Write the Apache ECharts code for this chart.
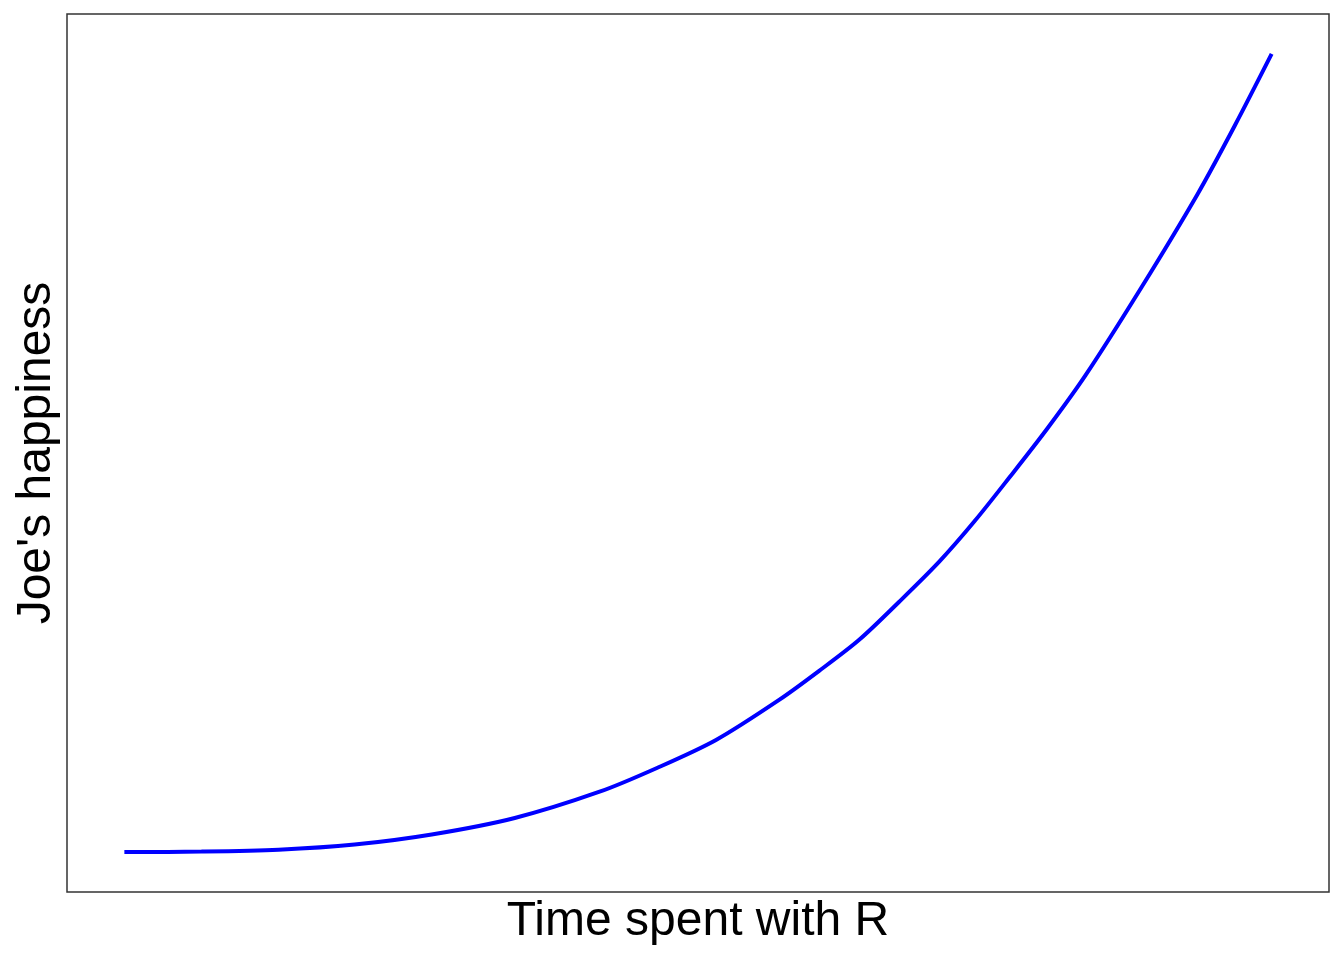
<!DOCTYPE html>
<html>
<head>
<meta charset="utf-8">
<script src="https://cdn.jsdelivr.net/npm/echarts@6/dist/echarts.min.js"></script>
<style>
html,body{margin:0;padding:0;background:#fff;}
#chart{width:1344px;height:960px;}
</style>
</head>
<body>
<div id="chart"></div>
<script>
const timeSpent = [0, 0.672, 1.344, 2.007, 2.679, 3.403, 4.136, 4.642, 5.157, 5.707, 6.056, 6.405, 6.754, 7.103, 7.408, 7.714, 8.045, 8.377, 8.866, 9.354, 9.677, 10];
const happiness = [0, 0.06, 0.29, 0.94, 2.20, 4.27, 7.53, 10.54, 14.05, 19.07, 22.71, 26.60, 31.37, 36.39, 41.41, 46.93, 53.07, 59.72, 70.77, 82.43, 90.97, 100];
const xTitle = "Time spent with R";
const yTitle = "Joe's happiness";

const chart = echarts.init(document.getElementById('chart'), null, {renderer: 'canvas'});
const font = 'Liberation Sans, Arial, sans-serif';
chart.setOption({
  animation: false,
  backgroundColor: '#ffffff',
  grid: {left: 67, top: 14, right: 15, bottom: 68, outerBoundsMode: 'none', containLabel: false,
         show: true, borderColor: '#333333', borderWidth: 1.5, backgroundColor: 'transparent'},
  xAxis: {
    type: 'value', min: -0.5, max: 10.5,
    name: xTitle, nameLocation: 'middle', nameGap: 6,
    nameTextStyle: {fontFamily: font, fontSize: 48, color: '#000', verticalAlign: 'top'},
    axisLine: {show: false}, axisTick: {show: false}, axisLabel: {show: false}, splitLine: {show: false}
  },
  yAxis: {
    type: 'value', min: -5, max: 105,
    name: yTitle, nameLocation: 'middle', nameGap: 6,
    nameTextStyle: {fontFamily: font, fontSize: 48, color: '#000'},
    axisLine: {show: false}, axisTick: {show: false}, axisLabel: {show: false}, splitLine: {show: false}
  },
  series: [{
    type: 'line',
    data: timeSpent.map((t, i) => [t, happiness[i]]),
    showSymbol: false,
    smooth: 0.3,
    lineStyle: {color: '#0000ff', width: 4, cap: 'butt'}
  }]
});
</script>
</body>
</html>
